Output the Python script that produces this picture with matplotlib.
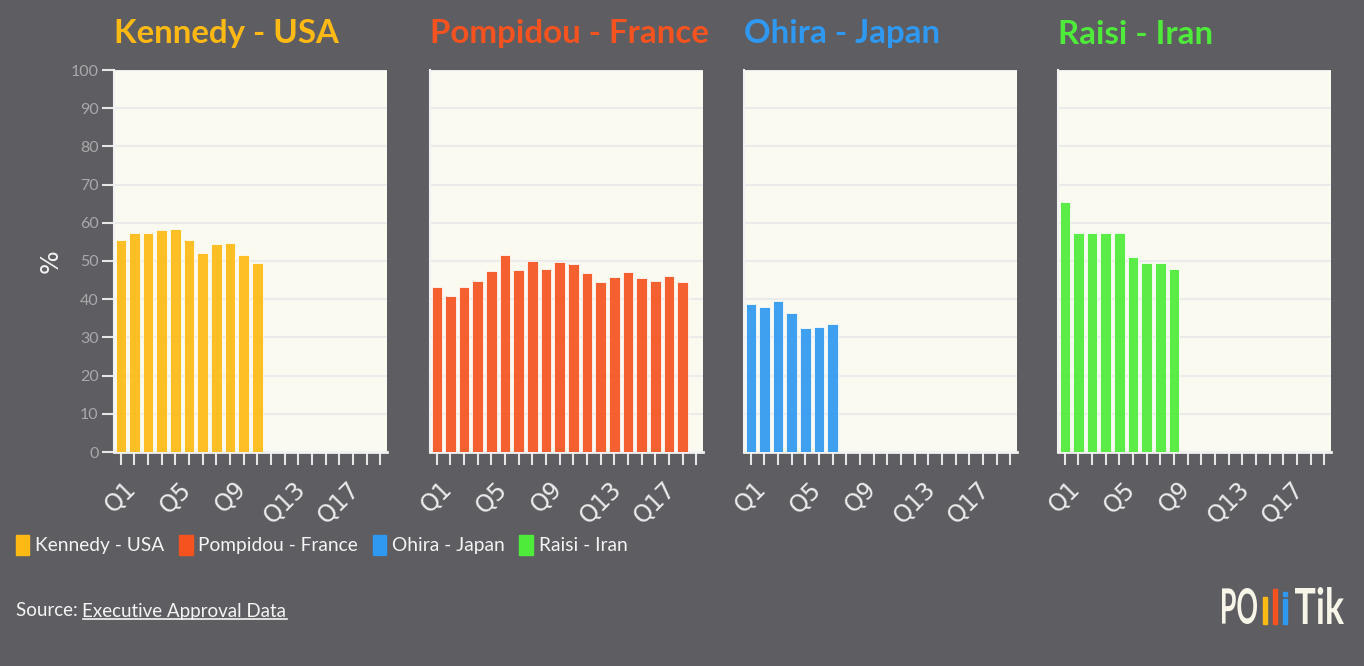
import matplotlib
matplotlib.use("Agg")
import matplotlib.pyplot as plt
from matplotlib.patches import Patch, Rectangle, PathPatch
from matplotlib.lines import Line2D
from matplotlib.textpath import TextPath
from matplotlib.transforms import Affine2D
from matplotlib.font_manager import FontProperties

plt.rcParams['font.family'] = ['Lato', 'DejaVu Sans']

# datos (aprobacion trimestral, %)
trimestres = ["Q%d" % i for i in range(1, 21)]
kennedy = [55.5, 57.4, 57.2, 58.0, 58.3, 55.6, 52.1, 54.5, 54.6, 51.7, 49.6]
pompidou = [43.3, 40.8, 43.1, 44.7, 47.3, 51.7, 47.6, 50.0, 48.0, 49.8,
            49.3, 46.9, 44.4, 45.7, 47.0, 45.5, 44.7, 46.2, 44.4]
ohira = [38.7, 38.0, 39.5, 36.5, 32.4, 32.6, 33.4]
raisi = [65.5, 57.2, 57.2, 57.3, 57.3, 51.0, 49.4, 49.4, 48.0]

nombres = ["Kennedy - USA", "Pompidou - France", "Ohira - Japan", "Raisi - Iran"]
series = [kennedy, pompidou, ohira, raisi]
colores = ["#FFB914", "#F4531F", "#2F98F0", "#4EEB3A"]

W, H = 1364, 666
fondo = "#5e5d62"
fig = plt.figure(figsize=(W / 100, H / 100), dpi=100, facecolor=fondo)


def px(x, y):
    # pixeles (desde arriba-izquierda) a fraccion de figura
    return x / W, 1 - y / H


izquierdas = [114, 430, 744, 1058]
ancho = 273
for i in range(4):
    x0, y0 = px(izquierdas[i], 452)
    ax = fig.add_axes([x0, y0, ancho / W, 382 / H])
    ax.set_facecolor("#fafaf1")
    pos = list(range(len(series[i])))
    ax.bar(pos, series[i], width=0.78, color=colores[i], alpha=0.92,
           edgecolor="#ffffff", linewidth=0.6, zorder=3)
    ax.set_xlim(-0.5, len(trimestres) - 0.5)
    ax.set_ylim(0, 100)
    ax.set_yticks(range(0, 101, 10))
    ax.grid(axis="y", color="#ebebeb", linewidth=1.5, zorder=0)
    ax.tick_params(axis="x", colors="#e6e6e6", length=9, width=1.5, pad=9)
    ax.set_xticks(range(len(trimestres)))
    ax.set_xticklabels([t if k % 4 == 0 else "" for k, t in enumerate(trimestres)])
    for lab in ax.get_xticklabels():
        lab.set_rotation(45)
        lab.set_ha("center")
        lab.set_fontsize(17)
        lab.set_family("DejaVu Sans")
        lab.set_color("#ececec")
    for lado in ["top", "right"]:
        ax.spines[lado].set_visible(False)
    ax.spines["bottom"].set_color("#f2f2f2")
    ax.spines["bottom"].set_linewidth(2)
    ax.spines["left"].set_color("#f2f2f2")
    ax.spines["left"].set_linewidth(1.5)
    if i == 0:
        ax.tick_params(axis="y", colors="#e6e6e6", length=9, width=1.5,
                       labelcolor="#a9a9ab", labelsize=11.5, pad=2)
        ax.set_ylabel("%", color="#f2f2f2", fontsize=18, labelpad=6,
                      family="DejaVu Sans")
    else:
        ax.tick_params(axis="y", length=0, labelleft=False)
    tx, ty = px(izquierdas[i], 34)
    fig.text(tx, ty, nombres[i], color=colores[i], fontsize=23.8,
             fontweight="bold", ha="left", va="center")

# leyenda
manijas = [Patch(facecolor=c, edgecolor=c) for c in colores]
lx, ly = px(8, 545)
fig.legend(manijas, nombres, loc="center left", bbox_to_anchor=(lx, ly),
           ncol=4, frameon=False, fontsize=13.8, labelcolor="#f4f4f4",
           handlelength=0.72, handleheight=1.25, handletextpad=0.3,
           columnspacing=0.75, borderaxespad=0)

# fuente
sx, sy = px(16, 611)
t1 = fig.text(sx, sy, "Source: ", color="#f4f4f4", fontsize=13.5, va="center")
fig.canvas.draw()
r = fig.canvas.get_renderer()
bb = t1.get_window_extent(r)
t2 = fig.text(bb.x1 / W, sy, "Executive Approval Data", color="#f4f4f4",
              fontsize=13.5, va="center")
bb2 = t2.get_window_extent(r)
yl = (bb2.y0 + 1) / H
fig.add_artist(Line2D([bb2.x0 / W, bb2.x1 / W], [yl, yl], color="#f4f4f4",
                      linewidth=1.2, transform=fig.transFigure))

# logo (texto estrecho)
blanco = "#f7f5e8"
fp = FontProperties(family="Lato", weight="bold")


def logo_texto(s, xizq, xder, ytop, ybase):
    tp = TextPath((0, 0), s, size=1, prop=fp)
    e = tp.get_extents()
    tr = (Affine2D().translate(-e.x0, -e.y0)
          .scale((xder - xizq) / e.width / W, (ybase - ytop) / e.height / H)
          .translate(xizq / W, 1 - ybase / H) + fig.transFigure)
    fig.add_artist(PathPatch(tp, facecolor=blanco, edgecolor="none",
                             transform=tr))


logo_texto("PO", 1222, 1257, 588, 624)
logo_texto("Tik", 1295, 1344, 587, 624)
for xr, ytop, ybot, c in [(1263, 597, 624, "#FFB914"), (1273, 589, 624, "#F4531F"),
                          (1283, 599, 624, "#2F98F0"), (1283, 592, 596, "#2F98F0")]:
    x0, y0 = px(xr, ybot)
    fig.add_artist(Rectangle((x0, y0), 4.2 / W, (ybot - ytop) / H, color=c,
                             transform=fig.transFigure))

fig.savefig("out.png", dpi=100, facecolor=fondo)
